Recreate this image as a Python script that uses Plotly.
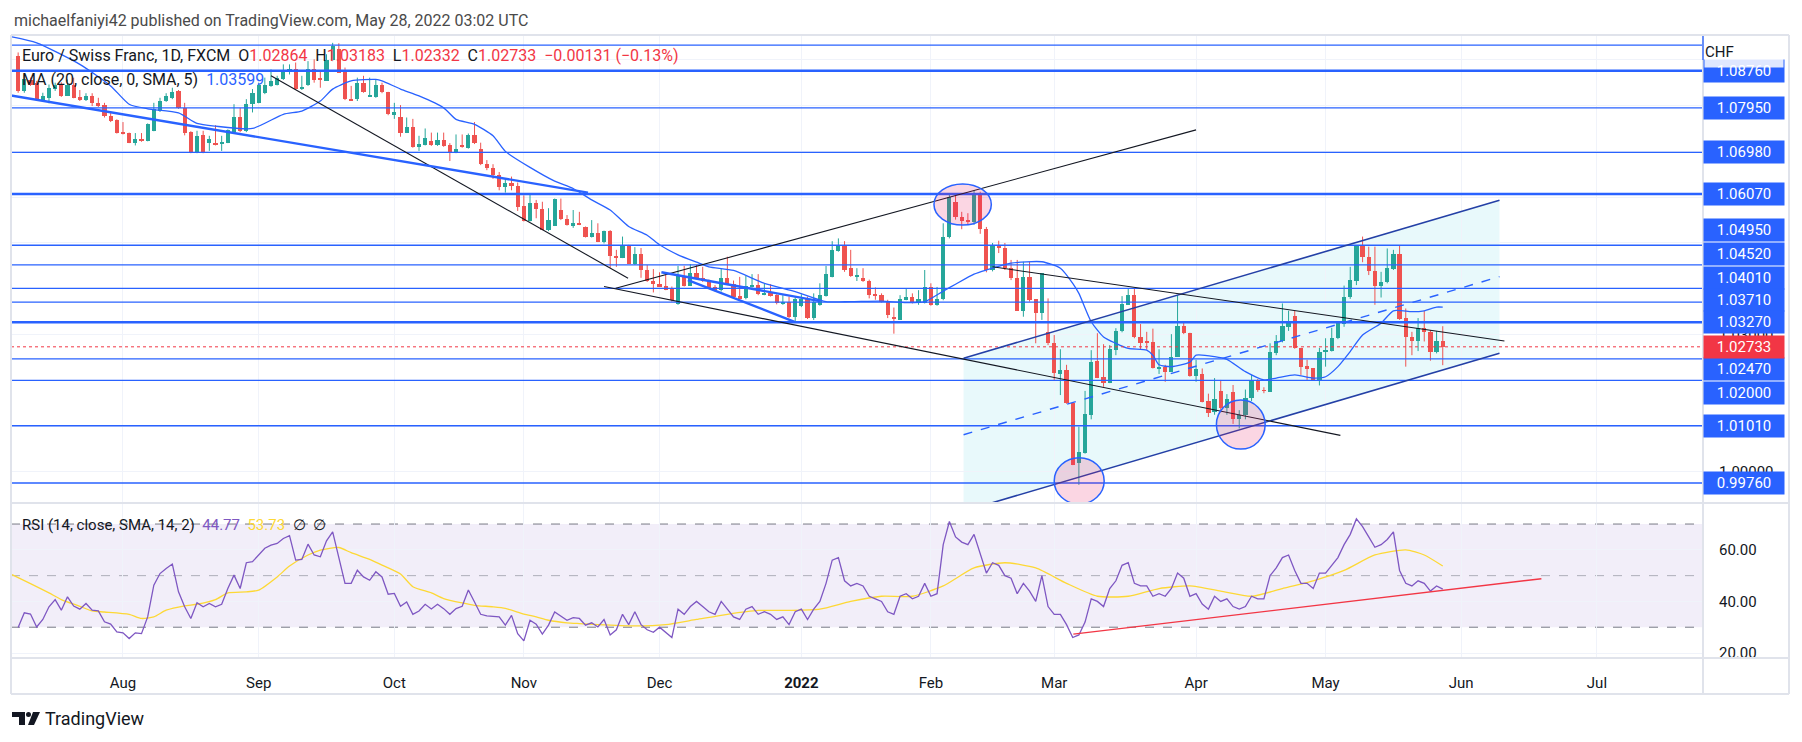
import plotly.graph_objects as go
import pandas as pd

# ---------------- DATA ----------------
dates = pd.bdate_range("2021-07-08", "2022-05-27")  # 232 daily bars (EUR/CHF, FXCM)

opens = [1.0908,1.0832,1.0856,1.0850,1.0812,1.0817,1.0836,1.0846,1.0822,1.0846,
1.0819,1.0812,1.0822,1.0806,1.0801,1.0777,1.0769,1.0742,1.0740,1.0719,
1.0726,1.0723,1.0745,1.0788,1.0810,1.0817,1.0832,1.0795,1.0742,1.0697,
1.0735,1.0718,1.0719,1.0716,1.0719,1.0742,1.0776,1.0745,1.0803,1.0806,
1.0827,1.0843,1.0846,1.0857,1.0873,1.0879,1.0838,1.0844,1.0879,1.0859,
1.0854,1.0900,1.0924,1.0873,1.0815,1.0814,1.0850,1.0819,1.0819,1.0844,
1.0830,1.0780,1.0775,1.0741,1.0753,1.0710,1.0715,1.0722,1.0713,1.0724,
1.0713,1.0696,1.0715,1.0708,1.0736,1.0705,1.0673,1.0664,1.0648,1.0622,
1.0630,1.0625,1.0580,1.0547,1.0587,1.0574,1.0528,1.0538,1.0572,1.0552,
1.0538,1.0543,1.0536,1.0513,1.0521,1.0502,1.0527,1.0472,1.0468,1.0494,
1.0455,1.0477,1.0441,1.0417,1.0411,1.0406,1.0400,1.0366,1.0428,1.0407,
1.0434,1.0424,1.0420,1.0405,1.0397,1.0424,1.0410,1.0384,1.0379,1.0404,
1.0408,1.0386,1.0390,1.0386,1.0368,1.0371,1.0339,1.0362,1.0377,1.0336,
1.0365,1.0384,1.0426,1.0483,1.0493,1.0445,1.0426,1.0423,1.0418,1.0389,
1.0386,1.0374,1.0339,1.0332,1.0376,1.0383,1.0370,1.0370,1.0403,1.0365,
1.0377,1.0512,1.0590,1.0557,1.0549,1.0546,1.0605,1.0530,1.0441,1.0495,
1.0488,1.0445,1.0423,1.0352,1.0425,1.0377,1.0347,1.0306,1.0281,1.0214,
1.0223,1.0150,1.0019,1.0041,1.0124,1.0242,1.0207,1.0195,1.0266,1.0308,
1.0365,1.0386,1.0294,1.0284,1.0284,1.0226,1.0230,1.0219,1.0252,1.0319,
1.0303,1.0210,1.0214,1.0155,1.0131,1.0177,1.0140,1.0175,1.0115,1.0125,
1.0161,1.0198,1.0179,1.0175,1.0259,1.0285,1.0317,1.0341,1.0271,1.0231,
1.0226,1.0201,1.0262,1.0264,1.0292,1.0323,1.0381,1.0417,1.0494,1.0470,
1.0439,1.0407,1.0414,1.0443,1.0477,1.0336,1.0294,1.0286,1.0315,1.0306,
1.0262,1.02864]

highs = [1.0916,1.0868,1.0861,1.0854,1.0828,1.0846,1.0850,1.0851,1.0857,1.0861,
1.0834,1.0827,1.0827,1.0817,1.0806,1.0786,1.0770,1.0764,1.0741,1.0740,
1.0740,1.0761,1.0806,1.0817,1.0827,1.0839,1.0834,1.0806,1.0744,1.0745,
1.0745,1.0734,1.0757,1.0734,1.0748,1.0803,1.0795,1.0814,1.0836,1.0850,
1.0861,1.0879,1.0865,1.0890,1.0890,1.0894,1.0865,1.0897,1.0901,1.0876,
1.0912,1.0937,1.0936,1.0883,1.0843,1.0861,1.0865,1.0861,1.0857,1.0850,
1.0830,1.0806,1.0801,1.0774,1.0771,1.0734,1.0750,1.0741,1.0741,1.0741,
1.0718,1.0737,1.0737,1.0739,1.0764,1.0719,1.0681,1.0672,1.0655,1.0640,
1.0645,1.0632,1.0604,1.0605,1.0594,1.0590,1.0576,1.0597,1.0597,1.0561,
1.0572,1.0568,1.0536,1.0550,1.0543,1.0527,1.0528,1.0485,1.0514,1.0496,
1.0491,1.0489,1.0452,1.0443,1.0436,1.0436,1.0405,1.0450,1.0450,1.0454,
1.0452,1.0448,1.0420,1.0408,1.0443,1.0470,1.0418,1.0426,1.0428,1.0432,
1.0432,1.0412,1.0410,1.0388,1.0386,1.0383,1.0383,1.0388,1.0383,1.0390,
1.0412,1.0450,1.0504,1.0510,1.0504,1.0485,1.0445,1.0445,1.0420,1.0403,
1.0390,1.0376,1.0359,1.0386,1.0401,1.0390,1.0397,1.0441,1.0412,1.0404,
1.0543,1.0605,1.0605,1.0568,1.0565,1.0615,1.0612,1.0535,1.0500,1.0505,
1.0500,1.0463,1.0463,1.0459,1.0459,1.0377,1.0434,1.0379,1.0299,1.0268,
1.0234,1.0150,1.0099,1.0177,1.0266,1.0303,1.0279,1.0277,1.0314,1.0384,
1.0401,1.0401,1.0323,1.0306,1.0313,1.0268,1.0234,1.0301,1.0386,1.0328,
1.0304,1.0245,1.0226,1.0171,1.0205,1.0201,1.0170,1.0190,1.0135,1.0180,
1.0212,1.0203,1.0185,1.0281,1.0299,1.0368,1.0352,1.0352,1.0271,1.0245,
1.0226,1.0271,1.0292,1.0315,1.0325,1.0407,1.0448,1.0494,1.0514,1.0492,
1.0492,1.0437,1.0488,1.0485,1.0494,1.0357,1.0306,1.0336,1.0352,1.0310,
1.0308,1.03183]

lows = [1.0828,1.0828,1.0843,1.0810,1.0810,1.0805,1.0832,1.0819,1.0821,1.0816,
1.0810,1.0810,1.0799,1.0797,1.0774,1.0764,1.0739,1.0737,1.0718,1.0713,
1.0721,1.0722,1.0744,1.0786,1.0808,1.0814,1.0793,1.0735,1.0696,1.0696,
1.0696,1.0701,1.0713,1.0701,1.0718,1.0741,1.0742,1.0742,1.0785,1.0805,
1.0825,1.0841,1.0844,1.0856,1.0868,1.0834,1.0834,1.0843,1.0850,1.0839,
1.0854,1.0897,1.0872,1.0812,1.0810,1.0810,1.0828,1.0819,1.0817,1.0827,
1.0779,1.0771,1.0732,1.0740,1.0708,1.0701,1.0713,1.0712,1.0712,1.0710,
1.0679,1.0696,1.0708,1.0706,1.0716,1.0670,1.0659,1.0640,1.0615,1.0610,
1.0615,1.0570,1.0547,1.0547,1.0554,1.0528,1.0526,1.0537,1.0550,1.0538,
1.0533,1.0539,1.0512,1.0512,1.0502,1.0499,1.0446,1.0448,1.0467,1.0454,
1.0452,1.0424,1.0415,1.0392,1.0404,1.0397,1.0372,1.0365,1.0405,1.0406,
1.0422,1.0415,1.0400,1.0394,1.0394,1.0408,1.0381,1.0377,1.0377,1.0403,
1.0386,1.0386,1.0383,1.0366,1.0365,1.0336,1.0328,1.0360,1.0334,1.0332,
1.0363,1.0383,1.0425,1.0481,1.0437,1.0426,1.0417,1.0415,1.0379,1.0376,
1.0370,1.0336,1.0302,1.0332,1.0375,1.0368,1.0365,1.0368,1.0363,1.0363,
1.0375,1.0510,1.0551,1.0530,1.0540,1.0540,1.0520,1.0436,1.0438,1.0478,
1.0441,1.0419,1.0352,1.0339,1.0372,1.0281,1.0332,1.0277,1.0201,1.0168,
1.0149,1.0015,0.9972,1.0040,1.0115,1.0205,1.0186,1.0194,1.0255,1.0305,
1.0365,1.0292,1.0267,1.0267,1.0226,1.0214,1.0197,1.0219,1.0252,1.0301,
1.0208,1.0197,1.0152,1.0120,1.0125,1.0130,1.0125,1.0105,1.0095,1.0115,
1.0155,1.0175,1.0172,1.0175,1.0255,1.0283,1.0308,1.0269,1.0212,1.0201,
1.0199,1.0189,1.0230,1.0263,1.0290,1.0317,1.0378,1.0408,1.0458,1.0430,
1.0365,1.0381,1.0412,1.0441,1.0332,1.0230,1.0255,1.0264,1.0285,1.0243,
1.0259,1.02332]

closes = [1.0832,1.0857,1.0844,1.0812,1.0821,1.0839,1.0844,1.0822,1.0846,1.0817,
1.0812,1.0822,1.0806,1.0799,1.0777,1.0766,1.0741,1.0740,1.0719,1.0726,
1.0723,1.0759,1.0793,1.0810,1.0821,1.0830,1.0795,1.0741,1.0697,1.0734,
1.0697,1.0726,1.0715,1.0721,1.0747,1.0776,1.0745,1.0803,1.0828,1.0844,
1.0844,1.0854,1.0861,1.0876,1.0879,1.0836,1.0841,1.0879,1.0856,1.0856,
1.0900,1.0930,1.0872,1.0814,1.0812,1.0849,1.0830,1.0821,1.0844,1.0830,
1.0781,1.0786,1.0741,1.0754,1.0710,1.0717,1.0730,1.0713,1.0725,1.0712,
1.0696,1.0705,1.0710,1.0736,1.0718,1.0672,1.0664,1.0648,1.0622,1.0630,
1.0625,1.0579,1.0547,1.0587,1.0574,1.0529,1.0550,1.0596,1.0552,1.0539,
1.0543,1.0541,1.0514,1.0521,1.0502,1.0527,1.0472,1.0468,1.0494,1.0455,
1.0477,1.0440,1.0416,1.0410,1.0405,1.0397,1.0376,1.0428,1.0407,1.0434,
1.0424,1.0416,1.0401,1.0397,1.0424,1.0408,1.0383,1.0378,1.0406,1.0408,
1.0388,1.0391,1.0384,1.0368,1.0371,1.0339,1.0377,1.0377,1.0336,1.0372,
1.0386,1.0432,1.0485,1.0493,1.0442,1.0428,1.0431,1.0418,1.0386,1.0384,
1.0372,1.0343,1.0333,1.0377,1.0383,1.0370,1.0377,1.0403,1.0365,1.0377,
1.0512,1.0601,1.0556,1.0549,1.0546,1.0605,1.0530,1.0441,1.0495,1.0488,
1.0445,1.0423,1.0352,1.0425,1.0376,1.0347,1.0434,1.0281,1.0216,1.0223,
1.0150,1.0015,1.0044,1.0127,1.0241,1.0205,1.0195,1.0268,1.0308,1.0366,
1.0386,1.0294,1.0282,1.0283,1.0226,1.0230,1.0219,1.0252,1.0319,1.0303,
1.0210,1.0224,1.0153,1.0129,1.0160,1.0140,1.0160,1.0115,1.0125,1.0161,
1.0198,1.0179,1.0177,1.0263,1.0285,1.0319,1.0328,1.0270,1.0230,1.0225,
1.0201,1.0263,1.0266,1.0292,1.0325,1.0383,1.0419,1.0494,1.0470,1.0439,
1.0407,1.0414,1.0446,1.0477,1.0334,1.0294,1.0286,1.0315,1.0305,1.0262,
1.0286,1.02733]

# MA (20, close): bar index -> value
ma_idx = [-1, 3, 10, 15, 18, 21, 26, 29, 32, 38, 43, 46, 49, 51, 54, 58, 59, 62, 65, 69,
          71, 74, 77, 79, 83, 87, 90, 93, 96, 99, 102, 104, 107, 110, 112, 116, 121, 126,
          131, 135, 140, 144, 147, 150, 152, 155, 157, 161, 166, 169, 171, 172, 174, 176,
          178, 180, 183, 184, 185, 187, 190, 191, 194, 196, 199, 202, 204, 207, 210, 212,
          214, 216, 218, 221, 223, 226, 228, 230, 231]
ma_val = [1.0950, 1.0937, 1.0890, 1.0843, 1.0803, 1.0793, 1.0784, 1.0761, 1.0755, 1.0750,
          1.0781, 1.0788, 1.0810, 1.0836, 1.0854, 1.0857, 1.0854, 1.0836, 1.0821, 1.0795,
          1.0770, 1.0759, 1.0734, 1.0700, 1.0665, 1.0635, 1.0619, 1.0594, 1.0572, 1.0536,
          1.0517, 1.0496, 1.0474, 1.0458, 1.0448, 1.0440, 1.0412, 1.0394,
          1.0372, 1.0372, 1.0373, 1.0370, 1.0372, 1.0395, 1.0410, 1.0432, 1.0441, 1.0456,
          1.0459, 1.0445, 1.0412, 1.0390, 1.0328, 1.0295, 1.0281, 1.0270, 1.0266, 1.0255,
          1.0234, 1.0230, 1.0240, 1.0255, 1.0252, 1.0246, 1.0219, 1.0201, 1.0205, 1.0212,
          1.0205, 1.0208, 1.0230, 1.0263, 1.0299, 1.0325, 1.0352, 1.0350, 1.0352, 1.0360, 1.03599]

# RSI (14)
rsi = [29.9,35.6,35.1,30.1,33.0,37.9,40.7,36.6,41.8,38.2,
37.0,39.2,36.6,36.3,32.1,31.2,28.2,27.8,25.6,27.8,
27.5,34.0,46.3,50.8,52.8,54.5,43.7,37.9,33.4,39.5,
37.9,39.2,37.9,38.9,45.0,50.2,45.0,55.0,55.4,58.0,
60.6,61.8,62.5,64.4,65.5,56.0,56.3,62.2,58.0,57.3,
63.5,67.0,56.7,47.0,47.0,52.1,49.5,48.2,51.5,49.5,
42.8,43.1,38.1,39.8,35.0,36.3,38.9,37.1,38.9,37.2,
35.0,37.2,38.1,44.4,39.8,35.0,34.4,34.3,34.0,30.8,
34.6,27.5,24.7,32.7,31.2,27.3,30.8,35.9,34.3,32.7,
33.7,33.4,30.8,31.7,30.1,
33,27,29,35,31,
36,31,29,28,30,28,26,37,35,38,
40,38,36,35,40,37,34,33,37,38,
35,36,35,33,34,31,36,37,33,37,
40,47,56,57,48,46,47,46,42,41,
40,36,35,42,43,41,42,47,42,43,
62,71,65,63,62,66,58,51,55,54,
50,49,43,47,44,40,50,38,35,35,
31,26,27,32,41,40,38,45,48,54,
55,47,46,46,42,43,42,45,51,49,
42,43,39,37,42,40,41,38,37,38,
42,41,41,50,53,57,58,52,47,47,
45,51,51,54,57,62,66,72,69,65,
61,62,64,67,52,47,46,48,47,44,
46,44.77]

# RSI-based MA (14)
rsima_idx = [-1, 2, 5, 7, 10, 12, 14, 18, 20, 22, 24, 27, 29, 32, 34, 37, 39, 42, 44, 47,
             49, 52, 54, 57, 59, 62, 64, 67, 69, 72, 74, 77, 79, 82, 84, 86, 89, 91, 94,
             100, 105, 110, 115, 120, 125, 130, 135, 140, 145, 150, 155, 160, 165, 170,
             175, 180, 185, 190, 195, 200, 205, 210, 215, 220, 225, 228, 231]
rsima_val = [50.4, 46.9, 43.3, 40.7, 38.1, 36.3, 35.9, 35.0, 33.4, 34.0, 36.6, 38.3, 38.9,
             40.7, 43.3, 43.7, 44.4, 49.5, 53.7, 58.0, 59.9, 60.9, 58.9, 56.3, 54.1, 50.6,
             45.7, 43.3, 41.1, 39.4, 38.5, 37.9, 37.3, 35.1, 34.0, 32.7, 31.7, 31.4, 31.0,
             30.5, 31.0, 33.0, 35.0, 36.5, 36.5, 37.0, 40.0, 42.0, 42.0, 46.0, 53.0, 55.0,
             53.0, 47.0, 42.0, 42.0, 45.0, 46.0, 44.0, 42.0, 45.0, 48.0, 52.0, 58.0, 60.0,
             58.0, 53.73]

levels = [1.0932, 1.08760, 1.07950, 1.06980, 1.06070, 1.04950, 1.04520,
          1.04010, 1.03710, 1.03270, 1.02470, 1.02000, 1.01010, 0.99760]
thick_levels = [1.08760, 1.06070, 1.03270]
last_price = 1.02733

price_ticks = [0.99, 1.00, 1.01, 1.02, 1.03, 1.04, 1.05, 1.06, 1.07, 1.08, 1.09]
price_ticks_shown = [1.00, 1.03]   # the others sit under the level labels
month_labels = ["Aug", "Sep", "Oct", "Nov", "Dec", "<b>2022</b>", "Feb", "Mar", "Apr", "May", "Jun", "Jul"]

# ---------------- LAYOUT HELPERS ----------------
W, H = 1802, 742
ML, MR, MT, MB = 11, 99, 35, 84
PW = W - ML - MR
PH = H - MT - MB


def pxx(x):
    return (x - ML) / PW


def pxy(y):
    return (H - MB - y) / PH


GREEN = "#26a69a"
RED = "#ef5350"
BLUE = "#2962ff"
TXT = "#131722"
FONT = "Trebuchet MS, Roboto, Arial, sans-serif"

n = len(closes)
idx = list(range(n))

all_days = pd.bdate_range("2021-07-08", "2022-07-29")
tick_pos = []
seen = set()
for k, d in enumerate(all_days):
    key = (d.year, d.month)
    if key not in seen:
        seen.add(key)
        if not (d.year == 2021 and d.month == 7):
            tick_pos.append(k)

fig = go.Figure()

for up, col in ((True, GREEN), (False, RED)):
    wx, wy = [], []
    for i in idx:
        if (closes[i] >= opens[i]) == up:
            wx += [i, i, None]
            wy += [lows[i], highs[i], None]
    fig.add_trace(go.Scatter(x=wx, y=wy, mode="lines", line=dict(color=col, width=1),
                             hoverinfo="skip", showlegend=False, xaxis="x", yaxis="y"))

MINH = 0.00018
for up, col in ((True, GREEN), (False, RED)):
    bx, bb, bh = [], [], []
    for i in idx:
        if (closes[i] >= opens[i]) == up:
            bx.append(i)
            lo = min(opens[i], closes[i])
            hgt = abs(closes[i] - opens[i])
            if hgt < MINH:
                lo -= (MINH - hgt) / 2
                hgt = MINH
            bb.append(lo)
            bh.append(hgt)
    fig.add_trace(go.Bar(x=bx, y=bh, base=bb, width=0.68, marker=dict(color=col, line=dict(width=0)),
                         hoverinfo="skip", showlegend=False, xaxis="x", yaxis="y"))

fig.add_trace(go.Scatter(x=ma_idx, y=ma_val, mode="lines",
                         line=dict(color=BLUE, width=1.3, shape="spline", smoothing=0.6),
                         hoverinfo="skip", showlegend=False, xaxis="x", yaxis="y"))

fig.add_trace(go.Scatter(x=rsima_idx, y=rsima_val, mode="lines",
                         line=dict(color="#fdd835", width=1.3, shape="spline", smoothing=0.6),
                         hoverinfo="skip", showlegend=False, xaxis="x2", yaxis="y2"))
fig.add_trace(go.Scatter(x=idx, y=rsi, mode="lines", line=dict(color="#7e57c2", width=1.3),
                         hoverinfo="skip", showlegend=False, xaxis="x2", yaxis="y2"))

shapes = []
XR = [-1.16, 273.2]

# RSI band + dashed levels
shapes.append(dict(type="rect", xref="x2", yref="y2", x0=XR[0], x1=XR[1], y0=30, y1=70,
                   fillcolor="rgba(126,87,194,0.10)", line=dict(width=0), layer="below"))
for lv, colr in ((70, "#787b86"), (50, "rgba(120,123,134,0.55)"), (30, "#787b86")):
    shapes.append(dict(type="line", xref="x2", yref="y2", x0=XR[0], x1=XR[1], y0=lv, y1=lv,
                       line=dict(color=colr, width=1, dash="dash"), layer="below"))

# Channel (parallel) fill + lines
ch_x0, ch_x1 = 153.3, 240.2
slope = 0.000397
up0, up1 = 1.02484, 1.02484 + slope * (ch_x1 - ch_x0)
lo0, lo1 = 0.99144, 0.99144 + slope * (ch_x1 - ch_x0)
lo0c = 0.99323  # clip at pane bottom
lo0x = ch_x0 + (lo0c - lo0) / slope
shapes.append(dict(type="path", xref="x", yref="y",
                   path=f"M {ch_x0},{up0} L {ch_x1},{up1} L {ch_x1},{lo1} L {lo0x},{lo0c} L {ch_x0},{lo0c} Z",
                   fillcolor="rgba(0,188,212,0.09)", line=dict(width=0), layer="below"))

for lv in levels:
    shapes.append(dict(type="line", xref="x", yref="y", x0=XR[0], x1=XR[1], y0=lv, y1=lv,
                       line=dict(color=BLUE, width=2.6 if lv in thick_levels else 1.3), layer="above"))
shapes.append(dict(type="line", xref="x", yref="y", x0=XR[0], x1=XR[1], y0=last_price, y1=last_price,
                   line=dict(color="#f23645", width=1, dash="dot"), layer="above"))

shapes.append(dict(type="line", xref="x", yref="y", x0=ch_x0, x1=ch_x1, y0=up0, y1=up1,
                   line=dict(color="#2440a6", width=1.6), layer="above"))
shapes.append(dict(type="line", xref="x", yref="y", x0=lo0x, x1=ch_x1, y0=lo0c, y1=lo1,
                   line=dict(color="#2440a6", width=1.6), layer="above"))
shapes.append(dict(type="line", xref="x", yref="y", x0=ch_x0, x1=ch_x1, y0=(up0 + lo0) / 2, y1=(up1 + lo1) / 2,
                   line=dict(color=BLUE, width=1.4, dash="dash"), layer="above"))

for (x0, y0, x1, y1) in [(41, 1.0865, 98.9, 1.0423), (96.9, 1.0401, 191, 1.0747),
                         (95.0, 1.0405, 214.4, 1.0080), (158, 1.0448, 241, 1.0286)]:
    shapes.append(dict(type="line", xref="x", yref="y", x0=x0, x1=x1, y0=y0, y1=y1,
                       line=dict(color="#131722", width=1.1), layer="above"))

for (x0, y0, x1, y1) in [(-1.16, 1.0822, 92.4, 1.0610), (104.3, 1.0436, 130.0, 1.0373),
                         (108.6, 1.0419, 125.9, 1.0328)]:
    shapes.append(dict(type="line", xref="x", yref="y", x0=x0, x1=x1, y0=y0, y1=y1,
                       line=dict(color=BLUE, width=2.4), layer="above"))

for (x0, x1, y0, y1) in [(148.5, 157.8, 1.0539, 1.0629), (168.0, 176.1, 0.9930, 1.0031),
                         (194.3, 202.2, 1.0050, 1.0157)]:
    shapes.append(dict(type="circle", xref="x", yref="y", x0=x0, x1=x1, y0=y0, y1=y1,
                       fillcolor="rgba(233,30,99,0.18)", line=dict(color=BLUE, width=1.5), layer="above"))

shapes.append(dict(type="line", xref="x2", yref="y2", x0=171.1, x1=247, y0=27.3, y1=48.8,
                   line=dict(color="#f23645", width=1.4), layer="above"))

FR = "#e0e3eb"
for (x0, y0, x1, y1) in [(11, 35, 1789, 35), (11, 694, 1789, 694), (11, 35, 11, 694), (1789, 35, 1789, 694),
                         (11, 503, 1789, 503), (11, 658, 1789, 658), (1703, 35, 1703, 694)]:
    shapes.append(dict(type="line", xref="paper", yref="paper", x0=pxx(x0), x1=pxx(x1), y0=pxy(y0), y1=pxy(y1),
                       line=dict(color=FR, width=2), layer="above"))
shapes.append(dict(type="line", xref="paper", yref="paper", x0=pxx(1703), x1=pxx(1703), y0=pxy(36), y1=pxy(60),
                   line=dict(color=BLUE, width=1.3), layer="above"))

LOGO = "#131722"
shapes.append(dict(type="rect", xref="paper", yref="paper", x0=pxx(12), x1=pxx(25), y0=pxy(717), y1=pxy(712),
                   fillcolor=LOGO, line=dict(width=0), layer="above"))
shapes.append(dict(type="rect", xref="paper", yref="paper", x0=pxx(19), x1=pxx(25), y0=pxy(725), y1=pxy(712),
                   fillcolor=LOGO, line=dict(width=0), layer="above"))
shapes.append(dict(type="circle", xref="paper", yref="paper", x0=pxx(26), x1=pxx(31), y0=pxy(717), y1=pxy(712),
                   fillcolor=LOGO, line=dict(width=0), layer="above"))
shapes.append(dict(type="path", xref="paper", yref="paper",
                   path=f"M {pxx(33)},{pxy(712)} L {pxx(40)},{pxy(712)} L {pxx(34)},{pxy(725)} L {pxx(28)},{pxy(725)} Z",
                   fillcolor=LOGO, line=dict(width=0), layer="above"))

annotations = []


def ann(text, x, y, size=15, color=TXT, **kw):
    d = dict(text=text, x=pxx(x), y=pxy(y), xref="paper", yref="paper", showarrow=False,
             xanchor="left", yanchor="middle", font=dict(family=FONT, size=size, color=color))
    d.update(kw)
    annotations.append(d)


ann("michaelfaniyi42 published on TradingView.com, May 28, 2022 03:02 UTC", 12, 20, size=16, color="#4a4a4a")
R_ = "#f23645"
ann(f"Euro / Swiss Franc, 1D, FXCM  O<span style='color:{R_}'>1.02864</span>  H<span style='color:{R_}'>1.03183</span>"
    f"  L<span style='color:{R_}'>1.02332</span>  C<span style='color:{R_}'>1.02733</span>"
    f"  <span style='color:{R_}'>\u22120.00131 (\u22120.13%)</span>", 20, 56, size=16)
ann(f"MA (20, close, 0, SMA, 5)  <span style='color:{BLUE}'>1.03599</span>", 20, 79, size=16)
ann("RSI (14, close, SMA, 14, 2)  <span style='color:#7e57c2'>44.77</span>  "
    "<span style='color:#fdd835'>53.73</span>  \u2205  \u2205", 20, 525, size=15)
ann("TradingView", 43, 718, size=18, color="#131722")

label_shift = {1.08760: 0, 1.07950: 0, 1.06980: 0, 1.06070: 0, 1.04950: 15, 1.04520: 10.5,
               1.04010: 10.5, 1.03710: 2, 1.03270: 0, 1.02470: -10.5, 1.02000: -13,
               1.01010: 0, 0.99760: 0}
for lv, sh in label_shift.items():
    annotations.append(dict(text=f"{lv:.5f}", x=pxx(1703), xref="paper", y=lv, yref="y", yshift=sh,
                            showarrow=False, xanchor="left", yanchor="middle", bgcolor=BLUE,
                            width=76, height=18, borderpad=2, align="center",
                            font=dict(family=FONT, size=15, color="white")))
annotations.append(dict(text=f"{last_price:.5f}", x=pxx(1703), xref="paper", y=last_price, yref="y",
                        showarrow=False, xanchor="left", yanchor="middle", bgcolor="#f23645",
                        width=76, height=18, borderpad=2, align="center",
                        font=dict(family=FONT, size=15, color="white")))
annotations.append(dict(text="CHF", x=pxx(1704), y=pxy(36), xref="paper", yref="paper", showarrow=False,
                        xanchor="left", yanchor="top", bgcolor="rgba(255,255,255,0.85)", width=78, height=30,
                        borderpad=0, align="left", valign="middle",
                        font=dict(family=FONT, size=15, color=TXT)))

fig.update_layout(
    width=W, height=H,
    margin=dict(l=ML, r=MR, t=MT, b=MB),
    paper_bgcolor="white", plot_bgcolor="white",
    barmode="overlay", bargap=0,
    showlegend=False,
    shapes=shapes, annotations=annotations,
    xaxis=dict(domain=[0, 1], anchor="y", range=XR, tickvals=tick_pos, ticktext=month_labels,
               showticklabels=False, showgrid=True, gridcolor="#f0f3fa", zeroline=False, showline=False,
               matches="x2"),
    yaxis=dict(domain=[pxy(503), 1], anchor="x", side="right", range=[0.99323, 1.09541],
               tickvals=price_ticks,
               ticktext=[f"{t:.5f}" if t in price_ticks_shown else "" for t in price_ticks],
               showgrid=True, gridcolor="#f0f3fa",
               zeroline=False, showline=False, ticks="outside", ticklen=12, tickcolor="rgba(0,0,0,0)",
               tickfont=dict(family=FONT, size=15, color=TXT)),
    xaxis2=dict(domain=[0, 1], anchor="y2", range=XR, tickvals=tick_pos, ticktext=month_labels,
                showgrid=True, gridcolor="#f0f3fa", zeroline=False, showline=False,
                ticks="outside", ticklen=11, tickcolor="rgba(0,0,0,0)",
                tickfont=dict(family=FONT, size=15, color=TXT)),
    yaxis2=dict(domain=[0, pxy(503)], anchor="x2", side="right", range=[18.06, 78.16],
                tickvals=[20, 40, 60], ticktext=["20.00", "40.00", "60.00"], showgrid=True, gridcolor="#f0f3fa",
                zeroline=False, showline=False, ticks="outside", ticklen=12, tickcolor="rgba(0,0,0,0)",
                tickfont=dict(family=FONT, size=15, color=TXT)),
)

fig.write_html("out.html", config={"displayModeBar": False},
               post_script="document.body.style.margin='0px';")
